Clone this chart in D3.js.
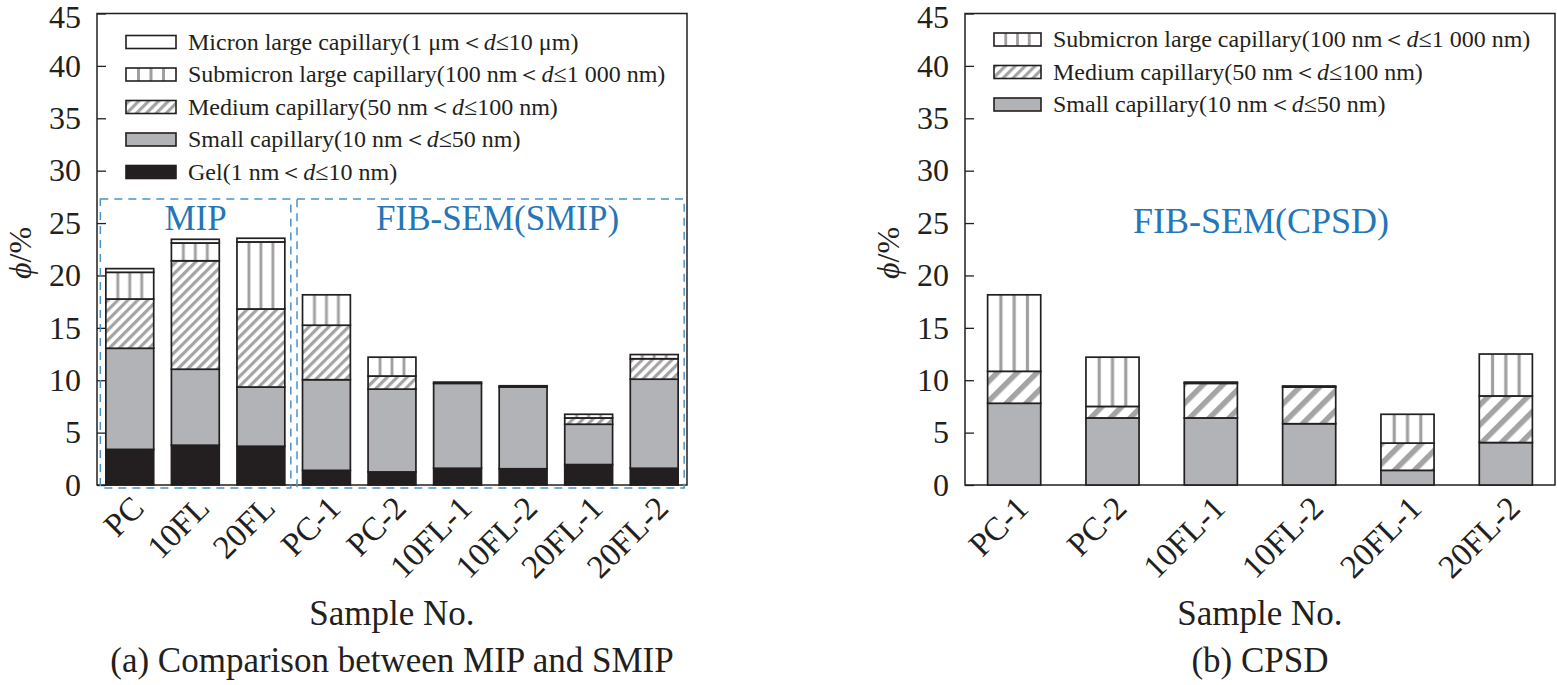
<!DOCTYPE html>
<html>
<head>
<meta charset="utf-8">
<script src="https://cdn.jsdelivr.net/npm/d3@7"></script>
<style>
  body { margin: 0; background: #fff; }
  text { font-family: "Liberation Serif", "Times New Roman", serif; fill: #231f20; }
</style>
</head>
<body>
<svg id="chart" width="1557" height="685"></svg>
<script>
// ---- data ----
const yTicks = [0, 5, 10, 15, 20, 25, 30, 35, 40, 45];

// (a) MIP + SMIP
const samplesA = ["PC", "10FL", "20FL", "PC-1", "PC-2", "10FL-1", "10FL-2", "20FL-1", "20FL-2"];
const gelA    = [3.4, 3.8, 3.7, 1.4, 1.25, 1.6, 1.55, 1.95, 1.6];
const smallA  = [9.65, 7.25, 5.65, 8.65, 7.9, 8.1, 7.8, 3.85, 8.5];
const mediumA = [4.7, 10.35, 7.45, 5.2, 1.25, 0.12, 0.12, 0.6, 1.95];
const subA    = [2.55, 1.7, 6.4, 2.9, 1.8, 0, 0, 0.35, 0.4];
const micronA = [0.35, 0.35, 0.35, 0, 0, 0, 0, 0, 0];

// (b) CPSD
const samplesB = ["PC-1", "PC-2", "10FL-1", "10FL-2", "20FL-1", "20FL-2"];
const smallB  = [7.8, 6.4, 6.4, 5.85, 1.4, 4.05];
const mediumB = [3.05, 1.1, 3.3, 3.5, 2.6, 4.45];
const subB    = [7.3, 4.7, 0.12, 0.1, 2.75, 4.0];

const legendA = [
  "Micron large capillary(1 μm＜d≤10 μm)",
  "Submicron large capillary(100 nm＜d≤1 000 nm)",
  "Medium capillary(50 nm＜d≤100 nm)",
  "Small capillary(10 nm＜d≤50 nm)",
  "Gel(1 nm＜d≤10 nm)"
];
const legendB = [
  "Submicron large capillary(100 nm＜d≤1 000 nm)",
  "Medium capillary(50 nm＜d≤100 nm)",
  "Small capillary(10 nm＜d≤50 nm)"
];

const ink = "#231f20";
const blue = "#2576b6";

const svg = d3.select("#chart");
const defs = svg.append("defs");

function hatch(id, size, w) {
  const p = defs.append("pattern")
    .attr("id", id)
    .attr("patternUnits", "userSpaceOnUse")
    .attr("width", size).attr("height", size)
    .attr("patternTransform", "rotate(45)");
  p.append("rect").attr("width", size).attr("height", size).attr("fill", "#fff");
  p.append("rect").attr("width", w).attr("height", size).attr("fill", "#a4a4a4");
}
hatch("hatchFine", 7, 3.2);
hatch("hatchWide", 14, 5.5);

// three vertical grey lines at quarters of each box
const vl = defs.append("pattern")
  .attr("id", "vlines")
  .attr("patternUnits", "objectBoundingBox")
  .attr("patternContentUnits", "objectBoundingBox")
  .attr("width", 1).attr("height", 1);
vl.append("rect").attr("width", 1).attr("height", 1).attr("fill", "#fff");
[0.25, 0.5, 0.75].forEach(f => {
  vl.append("rect").attr("x", f - 0.03).attr("width", 0.06).attr("height", 1).attr("fill", "#a0a0a0");
});

function drawPanel(cfg) {
  const g = svg.append("g");
  const x = d3.scaleBand()
    .domain(cfg.samples)
    .range([cfg.left, cfg.right])
    .paddingInner(cfg.pad)
    .paddingOuter(cfg.pad / 2);
  const y = d3.scaleLinear().domain([0, 45]).range([485, 13.5]);

  const rows = cfg.samples.map((s, i) => {
    const r = { sample: s };
    cfg.keys.forEach(k => { r[k] = cfg.series[k][i]; });
    return r;
  });
  const stacked = d3.stack().keys(cfg.keys)(rows);

  // frame
  g.append("rect")
    .attr("x", cfg.left).attr("y", y(45))
    .attr("width", cfg.right - cfg.left).attr("height", y(0) - y(45))
    .attr("fill", "none").attr("stroke", ink).attr("stroke-width", 1.5);

  // y axis with inward ticks
  const ya = g.append("g")
    .attr("transform", `translate(${cfg.left},0)`)
    .call(d3.axisLeft(y).tickValues(yTicks).tickSizeInner(-9).tickSizeOuter(0).tickPadding(16));
  ya.select(".domain").remove();
  ya.selectAll("line").attr("stroke", ink).attr("stroke-width", 1.3);
  ya.selectAll("text").attr("font-size", 32).attr("fill", ink);
  // keep the top label inside the page
  ya.selectAll("text").filter(d => d === 45).attr("dy", "0.45em");

  // x axis labels rotated
  const xa = g.append("g")
    .attr("transform", `translate(0,${y(0)})`)
    .call(d3.axisBottom(x).tickSize(0).tickPadding(0));
  xa.select(".domain").remove();
  xa.selectAll("text")
    .attr("font-size", 33).attr("fill", ink)
    .attr("x", 0).attr("y", 0).attr("dy", 0)
    .attr("transform", "translate(16,25) rotate(-45)")
    .style("text-anchor", "end");

  // stacked bars
  stacked.forEach(layer => {
    g.append("g").selectAll("rect")
      .data(layer.filter(d => d[1] - d[0] > 0))
      .join("rect")
      .attr("x", d => x(d.data.sample))
      .attr("width", x.bandwidth())
      .attr("y", d => y(d[1]))
      .attr("height", d => y(d[0]) - y(d[1]))
      .attr("fill", cfg.fills[layer.key])
      .attr("stroke", ink)
      .attr("stroke-width", 1.7);
  });

  // y label
  const yl = g.append("text")
    .attr("transform", `translate(${cfg.left - 66},253) rotate(-90)`)
    .attr("text-anchor", "middle")
    .attr("font-size", 32);
  yl.append("tspan").attr("font-style", "italic").text("ϕ");
  yl.append("tspan").text("/%");

  // x title and caption
  const cx = (cfg.left + cfg.right) / 2;
  g.append("text").attr("x", cx).attr("y", 625).attr("text-anchor", "middle")
    .attr("font-size", 35).text("Sample No.");
  g.append("text").attr("x", cx).attr("y", 672).attr("text-anchor", "middle")
    .attr("font-size", 35).text(cfg.caption);

  // legend
  const lg = g.append("g");
  cfg.legend.forEach((lab, i) => {
    const cy = cfg.legendTop + i * 32.5;
    lg.append("rect")
      .attr("x", cfg.left + 29).attr("y", cy - 6.5)
      .attr("width", cfg.swatchW).attr("height", 13)
      .attr("fill", cfg.legendFills[i])
      .attr("stroke", ink).attr("stroke-width", 1.6);
    const parts = lab.split("d≤");
    const t = lg.append("text")
      .attr("x", cfg.left + cfg.swatchW + 41).attr("y", cy + 7.5)
      .attr("font-size", 24);
    t.append("tspan").text(parts[0]);
    t.append("tspan").attr("font-style", "italic").text("d");
    t.append("tspan").text("≤" + parts[1]);
  });

  return { x, y, g };
}

const panelA = drawPanel({
  samples: samplesA,
  left: 97, right: 687, pad: 0.27,
  keys: ["gel", "small", "medium", "sub", "micron"],
  series: { gel: gelA, small: smallA, medium: mediumA, sub: subA, micron: micronA },
  fills: { gel: ink, small: "#b2b3b7", medium: "url(#hatchFine)", sub: "url(#vlines)", micron: "#fff" },
  legend: legendA,
  legendFills: ["#fff", "url(#vlines)", "url(#hatchFine)", "#b2b3b7", ink],
  legendTop: 42, swatchW: 50,
  caption: "(a) Comparison between MIP and SMIP"
});

const panelB = drawPanel({
  samples: samplesB,
  left: 965, right: 1555, pad: 0.46,
  keys: ["small", "medium", "sub"],
  series: { small: smallB, medium: mediumB, sub: subB },
  fills: { small: "#b2b3b7", medium: "url(#hatchWide)", sub: "url(#vlines)" },
  legend: legendB,
  legendFills: ["url(#vlines)", "url(#hatchFine)", "#b2b3b7"],
  legendTop: 39.5, swatchW: 47,
  caption: "(b) CPSD"
});

// dashed group boxes in panel (a)
{
  const { x, y, g } = panelA;
  const bw = x.bandwidth();
  const boxes = [
    { from: "PC", to: "20FL", label: "MIP", lx: 0 },
    { from: "PC-1", to: "20FL-2", label: "FIB-SEM(SMIP)", lx: 7 }
  ];
  boxes.forEach(b => {
    const x0 = x(b.from) - 5.5, x1 = x(b.to) + bw + 6;
    g.append("rect")
      .attr("x", x0).attr("y", y(27.3))
      .attr("width", x1 - x0).attr("height", y(0) + 3 - y(27.3))
      .attr("fill", "none").attr("stroke", "#4a92c8")
      .attr("stroke-width", 1.5).attr("stroke-dasharray", "8,6");
    g.append("text")
      .attr("x", (x0 + x1) / 2 + b.lx).attr("y", 230)
      .attr("text-anchor", "middle").attr("font-size", 35)
      .style("fill", blue).text(b.label);
  });
}

// label in panel (b)
panelB.g.append("text")
  .attr("x", 1261).attr("y", 233)
  .attr("text-anchor", "middle").attr("font-size", 36)
  .style("fill", blue).text("FIB-SEM(CPSD)");
</script>
</body>
</html>
